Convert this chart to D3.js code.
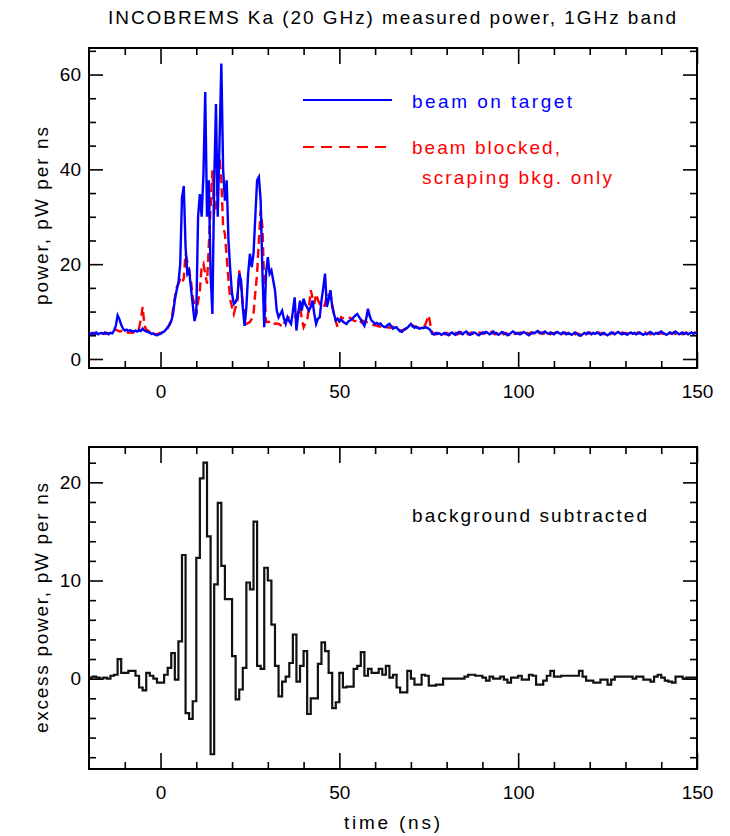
<!DOCTYPE html>
<html>
<head>
<meta charset="utf-8">
<script src="https://cdn.jsdelivr.net/npm/d3@7"></script>
<style>
  body { margin: 0; background: #fff; }
  text { font-family: 'Liberation Sans', Arial, sans-serif; fill: #000; }
</style>
</head>
<body>
<svg id="chart"></svg>
<script>
// time grid of the top panel: one sample every 0.5 ns from -20 ns
const SAMPLE_START = -20;
const SAMPLE_STEP = 0.5;

// beam on target, pW per ns (rows of 5 ns)
const beamOnTarget = [
  5.4, 5.2, 5.5, 5.3, 5.6, 5.2, 5.4, 5.5, 5.3, 5.6,
  5.4, 5.2, 5.5, 5.4, 6.0, 7.0, 9.2, 8.4, 7.2, 6.4,
  6.0, 6.2, 5.9, 6.1, 5.9, 5.8, 6.0, 5.8, 6.1, 5.9,
  6.4, 6.0, 5.8, 5.7, 5.5, 5.3, 5.4, 5.1, 5.0, 5.2,
  5.3, 5.6, 5.8, 6.2, 6.7, 7.2, 8.0, 9.5, 12.5, 14.5,
  16.0, 20.0, 34.0, 36.5, 23.6, 18.0, 18.7, 15.0, 11.5, 8.0,
  9.5, 30.0, 34.8, 30.0, 39.0, 56.3, 30.0, 37.7, 18.0, 9.5,
  37.0, 53.8, 30.0, 46.0, 62.3, 40.0, 33.4, 37.7, 25.0, 18.7,
  13.7, 11.6, 12.0, 13.0, 18.0, 16.6, 10.9, 7.0, 10.9, 18.0,
  22.2, 19.4, 22.2, 30.0, 37.7, 38.4, 33.4, 18.0, 6.7, 18.0,
  21.5, 18.0, 18.7, 16.6, 14.5, 10.2, 8.8, 9.5, 10.2, 8.5,
  7.4, 8.8, 8.0, 7.4, 10.0, 13.0, 6.0, 9.5, 12.3, 10.2,
  12.7, 11.5, 10.9, 10.2, 11.0, 12.3, 9.5, 7.4, 8.5, 8.8,
  12.3, 15.0, 18.0, 11.0, 12.5, 14.5, 11.0, 9.5, 8.1, 8.5,
  8.0, 8.3, 7.9, 7.6, 7.4, 7.9, 8.1, 8.4, 8.8, 9.2,
  9.5, 8.9, 8.3, 7.6, 7.0, 8.5, 10.6, 9.0, 8.1, 7.8,
  7.4, 7.6, 7.3, 7.5, 7.0, 6.8, 6.7, 7.2, 7.4, 6.9,
  6.4, 6.6, 6.7, 6.2, 5.8, 5.7, 6.2, 6.4, 6.6, 7.0,
  7.4, 6.9, 6.6, 6.8, 6.5, 6.4, 6.6, 6.5, 6.7, 6.6,
  6.4, 6.0, 5.3, 5.2, 5.5, 5.3, 5.4, 5.1, 5.3, 5.5,
  5.2, 5.0, 5.4, 5.6, 5.3, 5.1, 5.5, 5.7, 5.4, 5.2,
  5.6, 5.8, 5.4, 5.1, 5.3, 5.6, 5.5, 5.2, 5.0, 5.3,
  5.6, 5.4, 5.7, 5.5, 5.2, 5.4, 5.8, 5.5, 5.3, 5.1,
  5.4, 5.7, 5.5, 5.3, 5.0, 5.2, 5.5, 5.8, 5.6, 5.3,
  5.5, 5.2, 5.4, 5.7, 5.5, 5.2, 5.0, 5.3, 5.6, 5.4,
  5.7, 5.9, 5.6, 5.4, 5.6, 5.8, 5.5, 5.3, 5.6, 5.4,
  5.2, 5.5, 5.7, 5.4, 5.3, 5.6, 5.4, 5.2, 5.5, 5.3,
  5.1, 5.4, 5.6, 5.3, 5.0, 4.9, 5.2, 5.5, 5.3, 5.6,
  5.4, 5.2, 5.5, 5.3, 5.6, 5.4, 5.1, 5.3, 5.5, 5.2,
  5.0, 5.3, 5.6, 5.4, 5.2, 5.5, 5.7, 5.4, 5.2, 5.5,
  5.3, 5.1, 5.4, 5.6, 5.3, 5.5, 5.2, 5.4, 5.6, 5.3,
  5.1, 5.4, 5.2, 5.5, 5.7, 5.4, 5.2, 5.5, 5.3, 5.6,
  5.8, 5.5, 5.3, 5.1, 5.4, 5.6, 5.3, 5.5, 5.8, 5.5,
  5.2, 5.4, 5.6, 5.3, 5.5, 5.2, 5.4, 5.6, 5.3, 5.5,
  5.4
];

// beam blocked, scraping background only
const beamBlocked = [
  5.6, 5.4, 5.3, 5.5, 5.4, 5.6, 5.3, 5.5, 5.4, 5.3,
  5.5, 5.4, 5.6, 5.7, 6.0, 6.2, 6.0, 5.8, 5.9, 5.7,
  5.6, 5.8, 5.5, 5.6, 5.5, 5.7, 5.6, 5.8, 6.5, 8.5,
  11.0, 7.0, 6.2, 6.0, 5.7, 5.6, 5.5, 5.3, 5.2, 5.4,
  5.5, 5.6, 5.8, 6.0, 6.5, 7.3, 8.1, 10.5, 13.0, 15.0,
  16.0, 16.6, 16.0, 17.0, 22.2, 20.5, 18.7, 16.5, 13.0, 11.5,
  9.5, 12.0, 14.5, 19.4, 20.1, 18.0, 15.9, 24.0, 32.0, 39.8,
  30.6, 32.0, 37.0, 42.6, 37.7, 27.8, 26.4, 21.5, 16.6, 12.5,
  10.9, 9.5, 11.0, 12.3, 18.7, 15.5, 11.5, 9.5, 7.4, 7.6,
  7.8, 8.5, 9.5, 14.0, 18.0, 25.0, 31.3, 27.8, 15.2, 7.8,
  7.8, 7.9, 8.1, 7.8, 7.4, 7.5, 7.4, 7.2, 6.7, 7.5,
  8.1, 8.5, 8.8, 8.8, 8.6, 8.8, 8.8, 9.8, 10.9, 8.5,
  6.7, 7.5, 8.1, 11.0, 14.5, 13.0, 11.6, 13.7, 12.5, 11.6,
  11.0, 10.9, 11.5, 13.7, 13.5, 13.7, 11.5, 9.5, 8.0, 6.7,
  7.8, 8.8, 8.6, 8.8, 8.8, 8.6, 8.7, 8.4, 8.1, 8.0,
  7.6, 7.4, 7.8, 8.1, 7.9, 7.8, 7.7, 7.5, 7.4, 7.2,
  7.1, 7.0, 6.9, 6.8, 6.7, 6.9, 6.8, 6.7, 6.6, 6.7,
  6.8, 6.7, 6.6, 6.3, 6.0, 6.0, 6.1, 6.3, 6.5, 6.7,
  6.8, 7.1, 6.9, 6.7, 6.6, 6.7, 6.6, 6.7, 7.2, 8.2,
  9.2, 7.0, 5.6, 5.3, 5.2, 5.5, 5.3, 5.6, 5.4, 5.2,
  5.5, 5.3, 5.1, 5.4, 5.6, 5.5, 5.2, 5.4, 5.7, 5.5,
  5.3, 5.5, 5.2, 5.4, 5.6, 5.3, 5.1, 5.4, 5.6, 5.5,
  5.3, 5.6, 5.4, 5.2, 5.5, 5.7, 5.4, 5.2, 5.5, 5.3,
  5.6, 5.4, 5.2, 5.5, 5.3, 5.1, 5.4, 5.6, 5.3, 5.5,
  5.3, 5.5, 5.7, 5.4, 5.2, 5.5, 5.3, 5.6, 5.4, 5.2,
  5.5, 5.7, 5.4, 5.6, 5.3, 5.5, 5.7, 5.4, 5.2, 5.5,
  5.4, 5.6, 5.3, 5.5, 5.2, 5.4, 5.6, 5.4, 5.3, 5.5,
  5.3, 5.5, 5.2, 5.4, 5.3, 5.1, 5.3, 5.5, 5.2, 5.4,
  5.6, 5.3, 5.5, 5.2, 5.4, 5.6, 5.3, 5.5, 5.2, 5.4,
  5.3, 5.1, 5.4, 5.6, 5.3, 5.5, 5.2, 5.4, 5.6, 5.3,
  5.5, 5.3, 5.6, 5.4, 5.2, 5.5, 5.3, 5.6, 5.4, 5.2,
  5.4, 5.6, 5.3, 5.5, 5.2, 5.4, 5.6, 5.3, 5.5, 5.3,
  5.5, 5.3, 5.6, 5.4, 5.2, 5.5, 5.4, 5.6, 5.3, 5.5,
  5.3, 5.5, 5.2, 5.4, 5.6, 5.3, 5.5, 5.2, 5.4, 5.6,
  5.5
];

// bottom panel: 1 ns bins from -20 ns, background subtracted
const BIN_START = -20;
const BIN_WIDTH = 1;
const excessPower = [
  0.1, 0.2, 0.1, 0.0, 0.1, 0.0, 0.3, 0.4, 2.0, 0.6,
  0.6, 0.8, 0.8, 0.3, -0.9, -1.2, 0.6, 0.3, 0.0, -0.4,
  -0.4, 0.4, 1.1, 2.6, -0.1, 3.8, 12.6, -3.5, -4.1, -2.3,
  12.3, 20.4, 22.0, 14.5, -7.7, 9.6, 17.9, 11.5, 8.1, 8.1,
  2.3, -2.1, -1.1, 1.1, 9.8, 9.1, 16.0, 1.3, 1.0, 11.3,
  10.0, 5.5, 1.3, -1.8, -0.3, 0.2, 1.6, 4.5, -0.3, 1.3,
  2.8, -3.6, -2.0, -2.0, 1.5, 3.7, 2.8, 0.6, -3.0, -2.4,
  0.6, -0.9, -0.8, -0.8, 1.0, 1.3, 2.7, 0.3, 1.0, 0.6,
  0.6, 1.0, 0.4, 1.3, 0.1, 0.4, -0.9, -1.4, -1.4, 0.8,
  0.0, -0.6, -0.6, 0.4, 0.3, -0.7, -0.7, -0.6, -0.6, 0.0,
  0.0, 0.0, 0.0, 0.0, 0.0, 0.2, 0.4, 0.4, 0.3, 0.3,
  0.1, -0.2, 0.2, 0.0, 0.0, 0.2, -0.1, -0.4, 0.1, 0.1,
  0.3, -0.1, -0.1, 0.4, 0.3, -0.6, -0.6, -0.2, 0.3, 0.8,
  0.2, 0.2, 0.3, 0.3, 0.3, 0.3, 0.3, 0.8, 0.2, -0.2,
  -0.2, -0.4, -0.4, -0.1, -0.1, -0.6, -0.1, 0.2, 0.2, 0.2,
  0.2, 0.2, 0.0, 0.2, 0.2, -0.1, -0.1, -0.3, 0.2, 0.4,
  0.1, -0.2, -0.3, -0.4, 0.2, 0.2, 0.0, 0.1, 0.1, 0.1
];

const xMajorTicks = [0, 50, 100, 150];
const xMinorTicks = [-10, 10, 20, 30, 40, 60, 70, 80, 90, 110, 120, 130, 140];
const topYMajor = [0, 20, 40, 60];
const topYMinor = [5, 10, 15, 25, 30, 35, 45, 50, 55, 65];
const botYMajor = [0, 10, 20];
const botYMinor = [-8, -6, -4, -2, 2, 4, 6, 8, 12, 14, 16, 18, 22];

const WIDTH = 730;
const HEIGHT = 836;
const LEFT = 89;
const RIGHT = 697;

const svg = d3.select('#chart').attr('width', WIDTH).attr('height', HEIGHT);

const x = d3.scaleLinear().domain([-20, 150]).range([LEFT, RIGHT]);
const yTop = d3.scaleLinear().domain([-1.9, 65.6]).range([368, 48]);
const yBot = d3.scaleLinear().domain([-9.2, 23.6]).range([769, 447]);

const drawFrame = (y, yMajor, yMinor, clipId) => {
  const [y0, y1] = y.range();
  const g = svg.append('g');

  const styleAxis = (sel) => {
    sel.select('.domain').remove();
    sel.selectAll('.tick line').attr('stroke', '#000').attr('stroke-width', 1.6);
    sel.selectAll('.tick text').style('font-size', '19px').style('font-family', "'Liberation Sans', Arial, sans-serif");
  };

  // bottom with labels
  g.append('g').attr('transform', `translate(0,${y0})`)
    .call(d3.axisBottom(x).tickValues(xMajorTicks).tickSizeInner(-16).tickSizeOuter(0).tickPadding(17))
    .call(styleAxis);
  g.append('g').attr('transform', `translate(0,${y0})`)
    .call(d3.axisBottom(x).tickValues(xMinorTicks).tickSizeInner(-7).tickSizeOuter(0).tickFormat(''))
    .call(styleAxis);
  g.append('g').attr('transform', `translate(0,${y1})`)
    .call(d3.axisTop(x).tickValues(xMajorTicks).tickSizeInner(-16).tickSizeOuter(0).tickFormat(''))
    .call(styleAxis);
  g.append('g').attr('transform', `translate(0,${y1})`)
    .call(d3.axisTop(x).tickValues(xMinorTicks).tickSizeInner(-7).tickSizeOuter(0).tickFormat(''))
    .call(styleAxis);

  g.append('g').attr('transform', `translate(${LEFT},0)`)
    .call(d3.axisLeft(y).tickValues(yMajor).tickSizeInner(-14).tickSizeOuter(0).tickPadding(8))
    .call(styleAxis);
  g.append('g').attr('transform', `translate(${LEFT},0)`)
    .call(d3.axisLeft(y).tickValues(yMinor).tickSizeInner(-7).tickSizeOuter(0).tickFormat(''))
    .call(styleAxis);
  g.append('g').attr('transform', `translate(${RIGHT},0)`)
    .call(d3.axisRight(y).tickValues(yMajor).tickSizeInner(-14).tickSizeOuter(0).tickFormat(''))
    .call(styleAxis);
  g.append('g').attr('transform', `translate(${RIGHT},0)`)
    .call(d3.axisRight(y).tickValues(yMinor).tickSizeInner(-7).tickSizeOuter(0).tickFormat(''))
    .call(styleAxis);

  g.append('rect')
    .attr('x', LEFT).attr('y', y1)
    .attr('width', RIGHT - LEFT).attr('height', y0 - y1)
    .attr('fill', 'none').attr('stroke', '#000').attr('stroke-width', 2);

  svg.append('clipPath').attr('id', clipId)
    .append('rect')
    .attr('x', LEFT).attr('y', y1)
    .attr('width', RIGHT - LEFT).attr('height', y0 - y1);
};

drawFrame(yTop, topYMajor, topYMinor, 'clipTop');
drawFrame(yBot, botYMajor, botYMinor, 'clipBot');

// top panel series
const sampleTime = (i) => SAMPLE_START + i * SAMPLE_STEP;
const topLine = d3.line()
  .x((d, i) => x(sampleTime(i)))
  .y((d) => yTop(d));

svg.append('path')
  .datum(beamBlocked)
  .attr('clip-path', 'url(#clipTop)')
  .attr('fill', 'none')
  .attr('stroke', '#ff0000')
  .attr('stroke-width', 2.4)
  .attr('stroke-dasharray', '9,5')
  .attr('d', topLine);

svg.append('path')
  .datum(beamOnTarget)
  .attr('clip-path', 'url(#clipTop)')
  .attr('fill', 'none')
  .attr('stroke', '#0000ff')
  .attr('stroke-width', 2.4)
  .attr('d', topLine);

// bottom panel histogram
const steps = excessPower.map((v, i) => [BIN_START + i * BIN_WIDTH, v]);
steps.push([BIN_START + excessPower.length * BIN_WIDTH, excessPower[excessPower.length - 1]]);

svg.append('path')
  .datum(steps)
  .attr('clip-path', 'url(#clipBot)')
  .attr('fill', 'none')
  .attr('stroke', '#111')
  .attr('stroke-width', 2.2)
  .attr('d', d3.line().curve(d3.curveStepAfter).x((d) => x(d[0])).y((d) => yBot(d[1])));

// legend
const legend = svg.append('g');
legend.append('line')
  .attr('x1', 303).attr('x2', 392).attr('y1', 100).attr('y2', 100)
  .attr('stroke', '#0000ff').attr('stroke-width', 2);
legend.append('line')
  .attr('x1', 303).attr('x2', 392).attr('y1', 147).attr('y2', 147)
  .attr('stroke', '#ff0000').attr('stroke-width', 2).attr('stroke-dasharray', '11,7');

const addText = (txt, tx, ty, len, color, opts = {}) => {
  const t = svg.append('text')
    .attr('x', tx).attr('y', ty)
    .style('font-size', (opts.size || 19) + 'px')
    .style('fill', color)
    .attr('text-anchor', opts.anchor || 'start')
    .attr('textLength', len)
    .attr('lengthAdjust', 'spacing')
    .text(txt);
  if (opts.rotate) t.attr('transform', `rotate(-90,${tx},${ty})`);
  return t;
};

addText('beam on target', 412, 108, 160, '#0000ff');
addText('beam blocked,', 412, 154, 148, '#ff0000');
addText('scraping bkg. only', 422, 184, 190, '#ff0000');
addText('background subtracted', 412, 522, 235, '#000');

addText('INCOBREMS Ka (20 GHz) measured power, 1GHz band', 392, 24, 568, '#000', { anchor: 'middle' });
addText('time (ns)', 392, 829, 96, '#000', { anchor: 'middle' });
addText('power, pW per ns', 48, 216, 178, '#000', { anchor: 'middle', rotate: true });
addText('excess power, pW per ns', 48, 608, 250, '#000', { anchor: 'middle', rotate: true });
</script>
</body>
</html>
